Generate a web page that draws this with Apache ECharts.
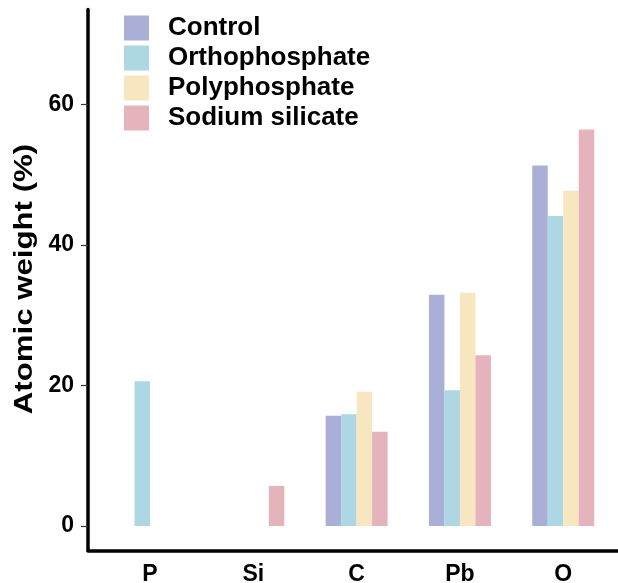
<!DOCTYPE html>
<html>
<head>
<meta charset="utf-8">
<script src="https://cdn.jsdelivr.net/npm/echarts@6/dist/echarts.min.js"></script>
<style>
  html, body { margin: 0; padding: 0; background: #ffffff; }
  #chart { width: 618px; height: 583px; }
</style>
</head>
<body>
<div id="chart"></div>
<script>
// Elements on the x axis, in plotting order
const elements = ['P', 'Si', 'C', 'Pb', 'O'];

// Atomic weight (%) per treatment; null where the element was not measured
const control        = [null, null, 15.7, 32.9, 51.3];
const orthophosphate = [20.6, null, 15.9, 19.3, 44.1];
const polyphosphate  = [null, null, 19.1, 33.2, 47.7];
const sodiumSilicate = [null, 5.7, 13.4, 24.3, 56.4];

const yTicks = [0, 20, 40, 60];

const FONT = '"Liberation Sans", Arial, sans-serif';

// Elements are placed at positions 1..n on a numeric axis so the outer padding
// can extend past half a category on each side.
function toPoints(values) {
  const pts = [];
  values.forEach((v, i) => { if (v !== null) pts.push([i + 1, v]); });
  return pts;
}

const seriesDefs = [
  { name: 'Control',         values: control,        color: '#a9afd6' },
  { name: 'Orthophosphate',  values: orthophosphate, color: '#add7e3' },
  { name: 'Polyphosphate',   values: polyphosphate,  color: '#f7e6bf' },
  { name: 'Sodium silicate', values: sodiumSilicate, color: '#e4b3bb' }
];

const chart = echarts.init(document.getElementById('chart'), null, { renderer: 'canvas' });

chart.setOption({
  animation: false,
  backgroundColor: '#ffffff',
  grid: {
    left: 88, right: 0, top: 9.4, bottom: 32.4,
    containLabel: false,
    outerBoundsMode: 'none'
  },
  legend: {
    orient: 'vertical',
    left: 124,
    top: 15,
    padding: 0,
    itemWidth: 25,
    itemHeight: 25,
    itemGap: 4,
    icon: 'rect',
    data: seriesDefs.map(s => s.name),
    textStyle: {
      fontFamily: FONT,
      fontWeight: 'bold',
      fontSize: 26,
      color: '#000000',
      lineHeight: 25,
      padding: [0, 0, 0, 14]
    }
  },
  xAxis: {
    type: 'value',
    min: 0.4,
    max: 5.53,
    splitLine: { show: false },
    axisLine: { show: true, onZero: false, lineStyle: { color: '#000000', width: 3.5 } },
    axisTick: { show: false },
    axisLabel: {
      customValues: elements.map((_, i) => i + 1),
      formatter: v => elements[Math.round(v) - 1] || '',
      fontFamily: FONT,
      fontWeight: 'bold',
      fontSize: 23,
      color: '#000000',
      margin: 13
    }
  },
  yAxis: {
    type: 'value',
    min: -3.5,
    max: 73.5,
    splitLine: { show: false },
    axisLine: { show: true, onZero: false, lineStyle: { color: '#000000', width: 3.5 } },
    axisTick: {
      show: true,
      customValues: yTicks,
      length: 7,
      lineStyle: { color: '#333333', width: 1.2 }
    },
    axisLabel: {
      customValues: yTicks,
      fontFamily: FONT,
      fontWeight: 'bold',
      fontSize: 23,
      color: '#000000',
      margin: 14
    }
  },
  graphic: [{
    type: 'text',
    x: 25,
    y: 279,
    rotation: Math.PI / 2,
    scaleX: 1.2,
    style: {
      text: 'Atomic weight (%)',
      font: 'bold 26px ' + FONT,
      fill: '#000000',
      align: 'center',
      verticalAlign: 'middle'
    }
  }],
  series: seriesDefs.map(s => ({
    name: s.name,
    type: 'bar',
    data: toPoints(s.values),
    barWidth: 15.5,
    barGap: '0%',
    itemStyle: { color: s.color },
    emphasis: { disabled: true }
  }))
});
</script>
</body>
</html>
